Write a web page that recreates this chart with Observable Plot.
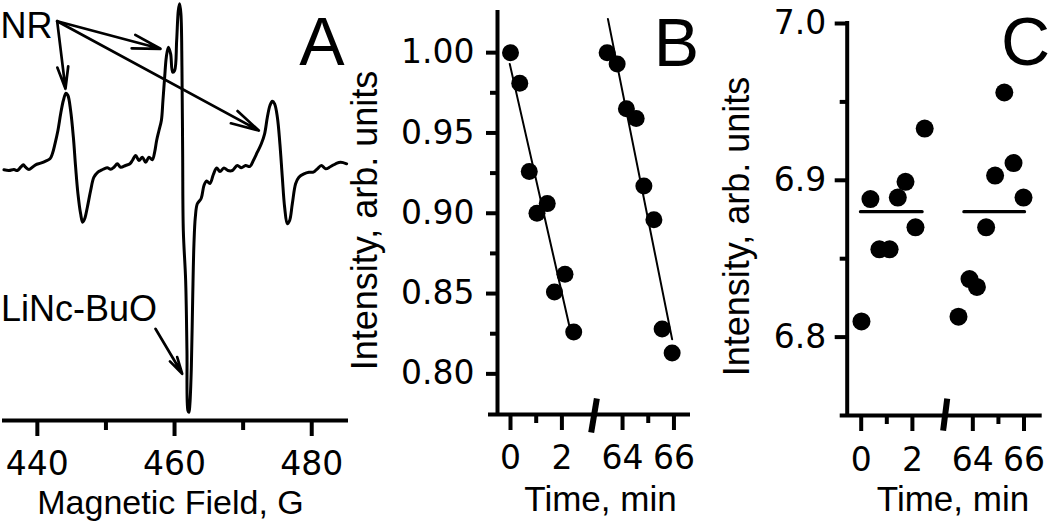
<!DOCTYPE html>
<html><head><meta charset="utf-8">
<script src="https://cdn.jsdelivr.net/npm/d3@7"></script>
<script src="https://cdn.jsdelivr.net/npm/@observablehq/plot@0.6"></script>
<style>
body{margin:0;background:#fff;}
#fig{position:relative;width:1050px;height:525px;overflow:hidden;background:#fff;}
#fig svg{position:absolute;top:0;}
</style></head><body><div id="fig"></div>
<script>
// ---------- Panel A: EPR spectrum ----------
const fieldG = [435.13,435.86,436.59,437.08,437.57,437.96,438.29,438.78,439.27,439.75,
440.48,441.21,441.84,442.19,442.57,443.00,443.40,443.79,444.17,444.46,
444.85,445.25,445.58,445.92,446.31,446.60,446.90,447.29,447.77,448.25,
448.83,449.23,449.71,450.20,450.69,451.17,451.66,452.14,452.87,453.50,
453.85,454.33,454.81,455.31,455.79,456.27,456.76,457.10,457.39,457.73,
458.08,458.31,458.56,458.80,459.10,459.43,459.72,460.01,460.31,460.55,
460.74,460.93,461.08,461.18,461.28,461.62,461.81,461.95,462.10,462.24,
462.45,462.64,462.83,463.03,463.32,463.88,464.29,464.68,465.16,465.66,
466.14,466.62,467.20,467.78,468.43,469.15,469.74,470.36,470.99,471.49,
472.07,472.65,473.13,473.53,473.91,474.26,474.59,474.99,475.36,475.71,
476.05,476.44,476.78,477.17,477.65,478.13,478.86,479.59,480.23,480.82,
481.40,482.03,482.76,483.48,484.21,485.09];
const signal = [-2.3,-3,-2,-3,0.3,2.7,0.3,-2,0.3,2.7,
4.3,6.3,8.7,13.7,23.7,37,53.7,67,74.3,72,
57,30.3,0.3,-26.3,-46.3,-54.7,-51.3,-39.7,-23,-9.7,
-4.7,-3,-1.3,-0.3,-1.7,0.3,3.7,0.3,2,3.7,
7,12,7,10.3,5.3,10.3,7.7,15.3,27,37,
47,67,90.3,110.3,120.3,113.7,95.3,97,127,157,
163.7,153.7,100.3,17,-63,-113,-183,-243,-244.7,-236.3,
-199.7,-133,-76.3,-49.7,-36.3,-31,-18,-13.5,-16,-7,
-0.5,-4,-0.5,-3,-3,2,-0.3,2,1,7,
15.3,23.7,33.7,50.3,62,66.3,63.7,50.3,23.7,-9.7,
-39.7,-56.3,-53,-36.3,-16.3,-9.7,-6.3,-4.7,-4.7,-1.3,
2,-1.3,1,3.7,5.3,3.7];
const fieldTicksMajor = [440, 460, 480];
const fieldTicksMinor = [450, 470];
// annotation arrows (field, signal)
const nrFrom = [442.89, 146.3];
const nrTipsField = [444.10, 457.95, 472.28];
const nrTipsSignal = [78.7, 118.7, 37];
const lincArrow = [457.22, -161.3, 461.12, -206.3];

// ---------- Panel B: intensity decay ----------
const timeB1 = [0, 0.36, 0.73, 1.03, 1.43, 1.71, 2.12, 2.46];
const intB1  = [1.000, 0.981, 0.926, 0.900, 0.906, 0.851, 0.862, 0.826];
const timeB2 = [63.40, 63.79, 64.15, 64.53, 64.83, 65.22, 65.54, 65.93];
const intB2  = [1.000, 0.993, 0.965, 0.959, 0.917, 0.896, 0.828, 0.813];
const fitB1t = [-0.03, 2.33], fitB1v = [0.993, 0.827];
const fitB2t = [63.43, 65.93], fitB2v = [1.021, 0.8215];
const yTicksBMajor = [0.80, 0.85, 0.90, 0.95, 1.00];
const yTicksBMinor = [0.825, 0.875, 0.925, 0.975];

// ---------- Panel C: intensity stable ----------
const timeC1 = [0.01, 0.36, 0.71, 1.11, 1.43, 1.73, 2.12, 2.48];
const intC1  = [6.810, 6.888, 6.856, 6.856, 6.889, 6.899, 6.870, 6.933];
const timeC2 = [63.44, 63.87, 64.16, 64.52, 64.87, 65.23, 65.59, 65.98];
const intC2  = [6.813, 6.837, 6.832, 6.870, 6.903, 6.956, 6.911, 6.889];
const meanC1t = [-0.03, 2.38], meanC2t = [63.65, 66.02], meanC = 6.88;
const yTicksCMajor = [6.8, 6.9, 7.0];
const yTicksCMinor = [6.85, 6.95];

// shared time-axis ticks (broken axis)
const timeTicksMajor = [0, 2, 64, 66];
const timeTicksMinor = [1, 65];
const breakShift = 59.64;
const brk = t => t > 30 ? t - breakShift : t;
const unbrk = d => Math.round(d > 3.3 ? d + breakShift : d);

const FONT = "Arial, 'Liberation Sans', sans-serif";
const TICKFONT = "'DejaVu Sans', sans-serif";
const AX = 4; // axis stroke width
const style = {fontFamily: FONT, fontSize: "34px", color: "black", background: "transparent", overflow: "visible"};
const fig = document.getElementById("fig");
function place(svg, left) { svg.style.left = left + "px"; fig.appendChild(svg); }

// ---------- A ----------
const spectrum = fieldG.map((f, i) => ({f, s: signal[i]}));
const nrArrows = nrTipsField.map((f, i) => ({x1: nrFrom[0], y1: nrFrom[1], x2: f, y2: nrTipsSignal[i]}));
const A = Plot.plot({
  width: 350, height: 525,
  marginLeft: 2, marginRight: 2, marginTop: 0, marginBottom: 105,
  x: {domain: [434.92, 485.36], label: null},
  y: {domain: [-253, 167], axis: null, label: null},
  style,
  marks: [
    Plot.ruleY([-253], {strokeWidth: AX}),
    Plot.axisX(fieldTicksMajor, {anchor: "bottom", tickSize: 16, tickPadding: 15, strokeWidth: AX, tickFormat: d => String(d), fontFamily: TICKFONT, fontSize: 33, label: null}),
    Plot.axisX(fieldTicksMinor, {anchor: "bottom", tickSize: 10, tickFormat: () => "", strokeWidth: AX, label: null}),
    Plot.line(spectrum, {x: "f", y: "s", strokeWidth: 3, curve: "catmull-rom"}),
    Plot.arrow(nrArrows, {x1: "x1", y1: "y1", x2: "x2", y2: "y2", strokeWidth: 2.7, headLength: 16, headAngle: 28}),
    Plot.arrow([lincArrow], {x1: d => d[0], y1: d => d[1], x2: d => d[2], y2: d => d[3], strokeWidth: 2.7, headLength: 16, headAngle: 28}),
    Plot.text(["NR"], {frameAnchor: "top-left", textAnchor: "start", lineAnchor: "bottom", dx: -2, dy: 37, fontSize: 36}),
    Plot.text(["LiNc-BuO"], {frameAnchor: "top-left", textAnchor: "start", lineAnchor: "bottom", dx: -1.5, dy: 320, fontSize: 36}),
    Plot.text(["A"], {frameAnchor: "top-right", textAnchor: "middle", lineAnchor: "bottom", dx: -26.5, dy: 64, fontSize: 68}),
    Plot.text(["Magnetic Field, G"], {frameAnchor: "bottom", textAnchor: "middle", lineAnchor: "bottom", dx: -5, dy: 93, fontSize: 34})
  ]
});
place(A, 0);

// ---------- B ----------
const ptsB = [...timeB1.map((t, i) => ({t, v: intB1[i]})), ...timeB2.map((t, i) => ({t, v: intB2[i]}))];
const fitB = [
  ...fitB1t.map((t, i) => ({t, v: fitB1v[i], g: 1})),
  ...fitB2t.map((t, i) => ({t, v: fitB2v[i], g: 2}))
];
const B = Plot.plot({
  width: 350, height: 525,
  marginLeft: 147, marginRight: 10, marginTop: 12, marginBottom: 111,
  x: {domain: [-0.506, 7.004], label: null},
  y: {domain: [0.7747, 1.025], label: null},
  style,
  marks: [
    Plot.ruleY([0.7747], {x1: -0.856, x2: 7.004, strokeWidth: AX}),
    Plot.ruleX([-0.506], {strokeWidth: AX, strokeLinecap: "square"}),
    Plot.axisY(yTicksBMajor, {anchor: "left", tickSize: 11, tickPadding: 12, strokeWidth: AX, tickFormat: d3.format(".2f"), fontFamily: TICKFONT, fontSize: 33, label: null}),
    Plot.axisY(yTicksBMinor, {anchor: "left", tickSize: 7, tickFormat: () => "", strokeWidth: AX, label: null}),
    Plot.axisX(timeTicksMajor.map(brk), {anchor: "bottom", tickSize: 16, tickPadding: 15, strokeWidth: AX, tickFormat: unbrk, fontFamily: TICKFONT, fontSize: 33, label: null}),
    Plot.axisX(timeTicksMinor.map(brk), {anchor: "bottom", tickSize: 9, tickFormat: () => "", strokeWidth: AX, label: null}),
    Plot.link([[3.36, 0.7846, 3.14, 0.7635]], {x1: d => d[0], y1: d => d[1], x2: d => d[2], y2: d => d[3], strokeWidth: 6}),
    Plot.line(fitB, {x: d => brk(d.t), y: "v", z: "g", strokeWidth: 2}),
    Plot.dot(ptsB, {x: d => brk(d.t), y: "v", r: 8.5, fill: "black"}),
    Plot.text(["B"], {frameAnchor: "top-right", textAnchor: "middle", lineAnchor: "bottom", dx: -14, dy: 53, fontSize: 68}),
    Plot.text(["Intensity, arb. units"], {frameAnchor: "left", rotate: -90, textAnchor: "middle", lineAnchor: "bottom", dx: -121, dy: 7, fontSize: 36}),
    Plot.text(["Time, min"], {frameAnchor: "bottom", textAnchor: "middle", lineAnchor: "bottom", dx: 6.5, dy: 96, fontSize: 35})
  ]
});
place(B, 350);

// ---------- C ----------
const ptsC = [...timeC1.map((t, i) => ({t, v: intC1[i]})), ...timeC2.map((t, i) => ({t, v: intC2[i]}))];
const meanLines = [
  ...meanC1t.map(t => ({t, v: meanC, g: 1})),
  ...meanC2t.map(t => ({t, v: meanC, g: 2}))
];
const C = Plot.plot({
  width: 350, height: 525,
  marginLeft: 146.7, marginRight: 8.3, marginTop: 23, marginBottom: 110,
  x: {domain: [-0.547, 7.07], label: null},
  y: {domain: [6.75, 7.0], label: null},
  style,
  marks: [
    Plot.ruleY([6.75], {x1: -0.82, x2: 7.07, strokeWidth: AX}),
    Plot.ruleX([-0.547], {strokeWidth: AX, strokeLinecap: "square"}),
    Plot.axisY(yTicksCMajor, {anchor: "left", tickSize: 12, tickPadding: 9, strokeWidth: AX, tickFormat: d3.format(".1f"), fontFamily: TICKFONT, fontSize: 33, label: null}),
    Plot.axisY(yTicksCMinor, {anchor: "left", tickSize: 7, tickFormat: () => "", strokeWidth: AX, label: null}),
    Plot.axisX(timeTicksMajor.map(brk), {anchor: "bottom", tickSize: 16, tickPadding: 16, strokeWidth: AX, tickFormat: unbrk, fontFamily: TICKFONT, fontSize: 33, label: null}),
    Plot.axisX(timeTicksMinor.map(brk), {anchor: "bottom", tickSize: 9, tickFormat: () => "", strokeWidth: AX, label: null}),
    Plot.link([[3.36, 6.7607, 3.20, 6.7404]], {x1: d => d[0], y1: d => d[1], x2: d => d[2], y2: d => d[3], strokeWidth: 6}),
    Plot.line(meanLines, {x: d => brk(d.t), y: "v", z: "g", strokeWidth: 3.2}),
    Plot.dot(ptsC, {x: d => brk(d.t), y: "v", r: 9, fill: "black"}),
    Plot.text(["C"], {frameAnchor: "top-right", textAnchor: "middle", lineAnchor: "bottom", dx: -16.7, dy: 41, fontSize: 68}),
    Plot.text(["Intensity, arb. units"], {frameAnchor: "left", rotate: -90, textAnchor: "middle", lineAnchor: "bottom", dx: -98.7, dy: 7, fontSize: 36}),
    Plot.text(["Time, min"], {frameAnchor: "bottom", textAnchor: "middle", lineAnchor: "bottom", dx: 8.3, dy: 95, fontSize: 35})
  ]
});
place(C, 700);
</script></body></html>
